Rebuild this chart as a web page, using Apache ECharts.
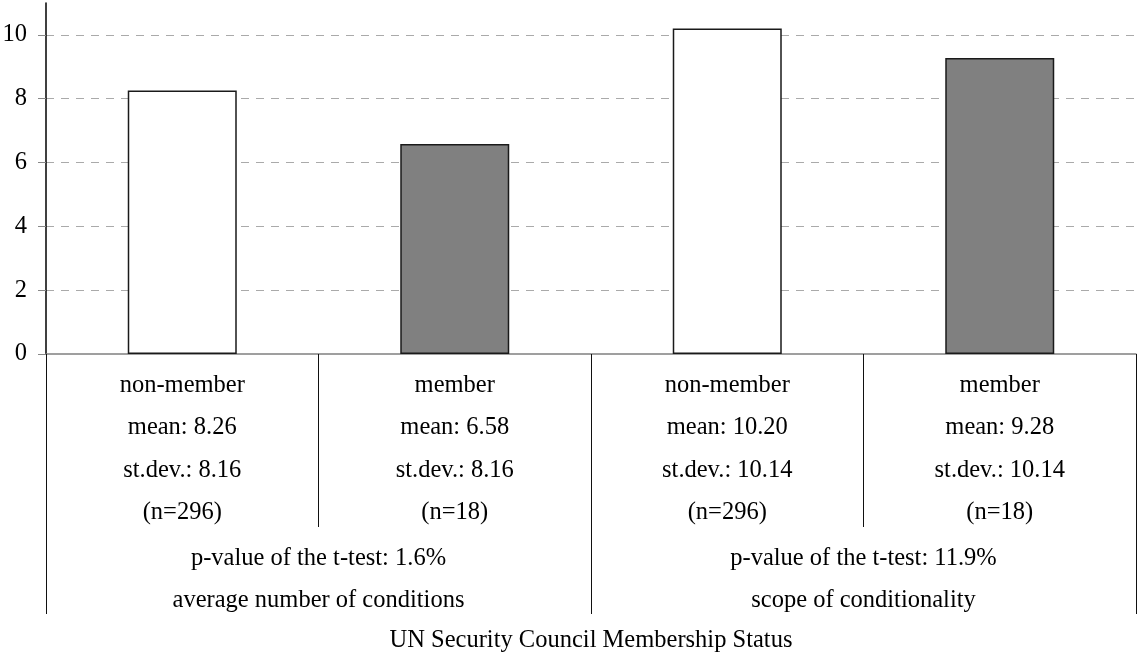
<!DOCTYPE html>
<html>
<head>
<meta charset="utf-8">
<script src="https://cdn.jsdelivr.net/npm/echarts@6/dist/echarts.min.js"></script>
<style>
html,body{margin:0;padding:0;background:#fff;}
#chart{width:1137px;height:652px;}
</style>
</head>
<body>
<div id="chart"></div>
<script>
const categories = ['non-member', 'member', 'non-member', 'member'];
const means = [8.26, 6.58, 10.20, 9.28];
const stdevs = [8.16, 8.16, 10.14, 10.14];
const counts = [296, 18, 296, 18];
const groups = ['average number of conditions', 'scope of conditionality'];
const pValues = ['1.6%', '11.9%'];
const yTicks = [0, 2, 4, 6, 8, 10];
const axisTitle = 'UN Security Council Membership Status';

const FONT = "'Liberation Serif', 'Times New Roman', serif";
const FS = 24.5;
const LH = 42.5;

const catLabels = categories.map((c, i) =>
  c + '\nmean: ' + means[i].toFixed(2) + '\nst.dev.: ' + stdevs[i].toFixed(2) + '\n(n=' + counts[i] + ')');
const groupLabels = groups.map((g, i) => 'p-value of the t-test: ' + pValues[i] + '\n' + g);

const barColor = c => (c === 'member' ? '#808080' : '#ffffff');

const chart = echarts.init(document.getElementById('chart'), null, { renderer: 'canvas' });
chart.setOption({
  animation: false,
  backgroundColor: '#ffffff',
  grid: { left: 46, right: 1, top: 3, bottom: 298, containLabel: false, outerBoundsMode: 'none' },
  xAxis: [
    {
      type: 'category',
      position: 'bottom',
      data: catLabels,
      boundaryGap: true,
      axisLine: { show: true, lineStyle: { color: '#808080', width: 1.5 } },
      axisTick: { show: true, length: 173, alignWithLabel: false, lineStyle: { color: '#111', width: 1 } },
      axisLabel: {
        interval: 0, margin: 10, fontFamily: FONT, fontSize: FS, color: '#000',
        lineHeight: LH, align: 'center', verticalAlign: 'top'
      },
      splitLine: { show: false }
    },
    {
      type: 'category',
      position: 'bottom',
      data: groupLabels,
      boundaryGap: true,
      axisLine: { show: false },
      axisTick: { show: true, length: 260, alignWithLabel: false, lineStyle: { color: '#111', width: 1 } },
      axisLabel: {
        interval: 0, margin: 183, fontFamily: FONT, fontSize: FS, color: '#000',
        lineHeight: LH, align: 'center', verticalAlign: 'top'
      },
      name: axisTitle,
      nameLocation: 'middle',
      nameGap: 274,
      nameTextStyle: { fontFamily: FONT, fontSize: FS, color: '#000' },
      splitLine: { show: false }
    }
  ],
  yAxis: {
    type: 'value',
    min: 0,
    max: 11,
    interval: 2,
    axisLine: { show: true, lineStyle: { color: '#000', width: 1.5 } },
    axisTick: { show: true, length: 8, customValues: yTicks, lineStyle: { color: '#888', width: 1 } },
    axisLabel: { customValues: yTicks, margin: 19, fontFamily: FONT, fontSize: FS, color: '#000' },
    splitLine: {
      show: true,
      lineStyle: {
        color: ['rgba(0,0,0,0)', '#aaaaaa', '#aaaaaa', '#aaaaaa', '#aaaaaa', '#aaaaaa', 'rgba(0,0,0,0)'],
        type: [8, 7],
        width: 1
      }
    }
  },
  series: [{
    type: 'bar',
    xAxisIndex: 0,
    barWidth: '40%',
    data: means.map((v, i) => ({
      value: v,
      itemStyle: { color: barColor(categories[i]), borderColor: '#1a1a1a', borderWidth: 1.5 }
    })),
    label: { show: false }
  }]
});
</script>
</body>
</html>
